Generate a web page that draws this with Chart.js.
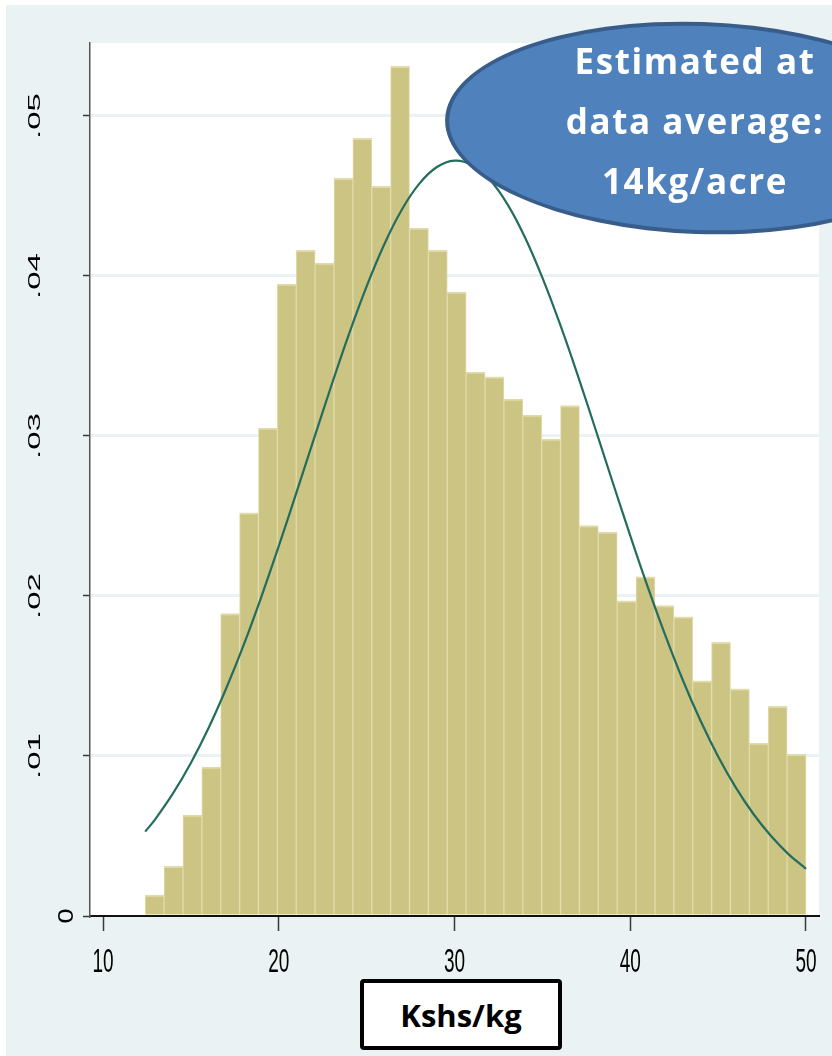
<!DOCTYPE html>
<html>
<head>
<meta charset="utf-8">
<script src="https://cdn.jsdelivr.net/npm/chart.js@4.4.0/dist/chart.umd.min.js"></script>
<style>
  html, body { margin: 0; padding: 0; background: #ffffff; overflow: hidden; }
  #wrap { position: relative; width: 832px; height: 1056px; overflow: hidden; }
  #chart { position: absolute; left: 0; top: 0; }
  #bubble {
    position: absolute; left: 445px; top: 22px; width: 510px; height: 212px;
    box-sizing: border-box; border-radius: 50%;
    background: #4f81bd; border: 4px solid #385d8a;
    transform: rotate(2deg);
  }
  #bubbleText {
    position: absolute; left: 495px; top: 31px; width: 400px;
    text-align: center; color: #ffffff;
    font: bold 35px "Open Sans", "Noto Sans", sans-serif; line-height: 60px;
    letter-spacing: 1.6px; white-space: nowrap;
  }
  #xTitle {
    position: absolute; left: 360px; top: 979px; width: 202px; height: 71px;
    box-sizing: border-box; border: 4px solid #000000; border-radius: 4px;
    background: #ffffff; display: flex; align-items: center; justify-content: center;
    font: bold 31px "Open Sans", "Noto Sans", sans-serif; color: #000000;
  }
</style>
</head>
<body>
<div id="wrap">
  <canvas id="chart" width="832" height="1056"></canvas>
  <div id="bubble"></div>
  <div id="bubbleText">Estimated at<br>data average:<br>14kg/acre</div>
  <div id="xTitle">Kshs/kg</div>
</div>
<script>
// Histogram of price (Kshs/kg): 35 equal-width bins from 12.4 to 50
const binLow = 12.4;
const binHigh = 50;
const density = [
  0.0013, 0.0031, 0.0063, 0.0093, 0.0189, 0.0252, 0.0305, 0.0395, 0.0416, 0.0408,
  0.0461, 0.0486, 0.0456, 0.0531, 0.0430, 0.0416, 0.0390, 0.0340, 0.0337, 0.0323,
  0.0313, 0.0298, 0.0319, 0.0244, 0.0240, 0.0197, 0.0212, 0.0194, 0.0187, 0.0147,
  0.0171, 0.0142, 0.0108, 0.0131, 0.0101
];

// Overlaid normal density curve
const curveX = [12.4, 13, 14, 15, 16, 17, 18, 19, 20, 21, 22, 23, 24, 25, 26, 27, 28, 29, 30,
  31, 32, 33, 34, 35, 36, 37, 38, 39, 40, 41, 42, 43, 44, 45, 46, 47, 48, 49, 50];
const curveY = [0.00527, 0.00609, 0.00769, 0.00956, 0.01173, 0.01420, 0.01693, 0.01992, 0.02311,
  0.02644, 0.02982, 0.03317, 0.03638, 0.03935, 0.04197, 0.04414, 0.04577, 0.04681, 0.04721,
  0.04694, 0.04603, 0.04451, 0.04244, 0.03990, 0.03700, 0.03383, 0.03050, 0.02711, 0.02377,
  0.02055, 0.01752, 0.01472, 0.01220, 0.00997, 0.00804, 0.00639, 0.00501, 0.00387, 0.00295];

// Axis ticks
const xTicks = [10, 20, 30, 40, 50];
const yTicks = [0, 0.01, 0.02, 0.03, 0.04, 0.05];
const yTickLabels = ['0', '.01', '.02', '.03', '.04', '.05'];

const binWidth = (binHigh - binLow) / density.length;
const barPoints = density.map((v, i) => ({ x: binLow + (i + 0.5) * binWidth, y: v }));
const linePoints = curveX.map((x, i) => ({ x: x, y: curveY[i] }));

const PAGE_BG = 'rgb(234,242,243)';

// Page and plot-region backgrounds
const backdrop = {
  id: 'backdrop',
  beforeDraw(chart) {
    const { ctx, chartArea: a } = chart;
    ctx.save();
    ctx.fillStyle = '#ffffff';
    ctx.fillRect(0, 0, chart.width, chart.height);
    ctx.fillStyle = PAGE_BG;
    ctx.fillRect(6, 5, chart.width - 6, chart.height - 5);
    ctx.fillStyle = '#ffffff';
    ctx.fillRect(a.left, a.top, a.right - a.left, a.bottom - a.top);
    ctx.restore();
  }
};

// Tick labels in a tall, condensed face
const tallTicks = {
  id: 'tallTicks',
  afterDraw(chart) {
    const { ctx, scales } = chart;
    const xs = scales.x, ys = scales.y;
    ctx.save();
    ctx.fillStyle = '#000000';
    ctx.font = '20px "Liberation Sans", Arial, sans-serif';
    ctx.textAlign = 'center';
    ctx.textBaseline = 'alphabetic';
    xs.ticks.forEach(t => {
      const px = xs.getPixelForValue(t.value);
      ctx.save();
      ctx.translate(px, xs.top + 56);
      ctx.scale(0.95, 1.675);
      ctx.fillText(String(t.value), 0, 0);
      ctx.restore();
    });
    ys.ticks.forEach(t => {
      const py = ys.getPixelForValue(t.value);
      const label = yTickLabels[yTicks.indexOf(t.value)];
      ctx.save();
      if (t.value === 0) {
        ctx.translate(73, py);
        ctx.rotate(-Math.PI / 2);
        ctx.scale(1.35, 1.12);
      } else {
        ctx.translate(40, py);
        ctx.rotate(-Math.PI / 2);
        ctx.scale(1.65, 0.8);
      }
      ctx.fillText(label, 0, 0);
      ctx.restore();
    });
    ctx.restore();
  }
};

new Chart(document.getElementById('chart'), {
  data: {
    datasets: [
      {
        type: 'line',
        data: linePoints,
        borderColor: 'rgb(36,108,94)',
        borderWidth: 2.2,
        pointRadius: 0,
        tension: 0.4,
        fill: false,
        order: 0
      },
      {
        type: 'bar',
        data: barPoints,
        backgroundColor: 'rgb(203,196,130)',
        borderColor: 'rgb(224,219,170)',
        borderWidth: { top: 2, left: 1, right: 1, bottom: 0 },
        borderSkipped: false,
        barPercentage: 1,
        categoryPercentage: 1,
        order: 1
      }
    ]
  },
  options: {
    responsive: false,
    animation: false,
    devicePixelRatio: 1,
    layout: { padding: { left: 0, top: 43, right: 13, bottom: 0 } },
    plugins: { legend: { display: false }, tooltip: { enabled: false } },
    scales: {
      x: {
        type: 'linear',
        min: 9.26,
        max: 50.74,
        offset: false,
        afterBuildTicks: s => { s.ticks = xTicks.map(v => ({ value: v })); },
        afterFit: s => { s.height = 140; },
        ticks: { display: false },
        grid: {
          offset: false,
          drawOnChartArea: false,
          drawTicks: true,
          tickLength: 15,
          tickColor: '#3a3a3a',
          tickWidth: 1.5
        },
        border: { display: true, color: '#111111', width: 2 }
      },
      y: {
        type: 'linear',
        min: 0,
        max: 0.05456,
        afterBuildTicks: s => { s.ticks = yTicks.map(v => ({ value: v })); },
        afterFit: s => { s.width = 90; },
        ticks: { display: false },
        grid: {
          color: c => (c.tick && c.tick.value === 0) ? 'rgba(0,0,0,0)' : PAGE_BG,
          lineWidth: 3,
          drawTicks: true,
          tickLength: 7,
          tickColor: '#3a3a3a',
          tickWidth: 1.5
        },
        border: { display: true, color: '#555555', width: 1.5 }
      }
    }
  },
  plugins: [backdrop, tallTicks]
});
</script>
</body>
</html>
